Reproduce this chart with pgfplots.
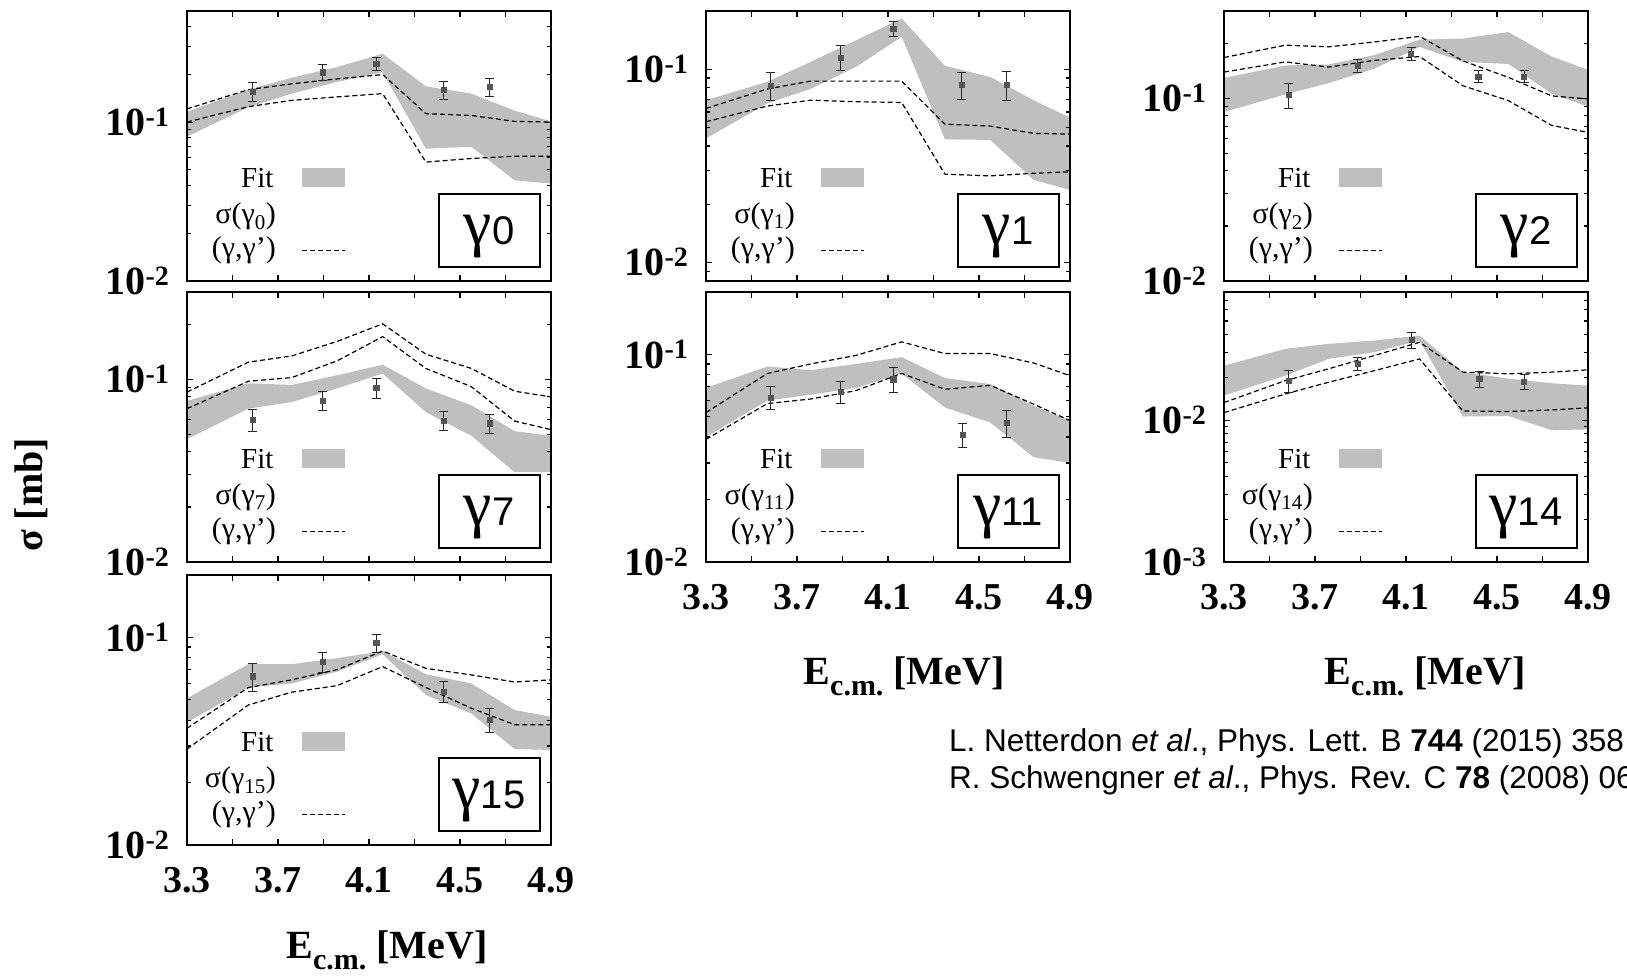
\documentclass[border=0pt]{standalone}
\usepackage{fontspec}
\setmainfont{Liberation Serif}
\newfontfamily\sans{Liberation Sans}
\usepackage{pgfplots}
\pgfplotsset{compat=1.18}
\usepackage{pgfplotstable}
\usetikzlibrary{calc}

\definecolor{bandgray}{RGB}{191,191,191}
\definecolor{markgray}{RGB}{85,85,85}

\newcommand\tickfont{\fontsize{38}{38}\selectfont\bfseries}
\newcommand\ytickfont{\fontsize{40}{40}\selectfont\bfseries}
\newcommand\legfont{\fontsize{29}{29}\selectfont}
\newcommand\greekleg{\fontsize{30}{30}\selectfont}
\newcommand\labfont{\fontsize{40}{40}\selectfont\bfseries}

% two (gamma,gamma') calculations (da/db) per transition
\pgfplotstableread{
x    da     db
3.30 0.121  0.100
3.57 0.160  0.125
3.76 0.174  0.137
3.96 0.187  0.144
4.16 0.199  0.151
4.35 0.113  0.056
4.55 0.110  0.059
4.74 0.101  0.061
4.90 0.100  0.061
}\calcA
\pgfplotstableread{
x     y      e
3.588 0.156  0.022
3.896 0.206  0.023
4.132 0.232  0.022
4.429 0.160  0.021
4.631 0.166  0.022
}\dataA

\pgfplotstableread{
x    da     db
3.30 0.0626 0.0534
3.57 0.079  0.0644
3.76 0.0867 0.0691
3.96 0.0867 0.0678
4.16 0.0867 0.0672
4.35 0.0519 0.0286
4.55 0.0507 0.028
4.74 0.0465 0.0289
4.90 0.0461 0.0294
}\calcB
\pgfplotstableread{
x     y      e
3.583 0.082  0.0135
3.892 0.115  0.017
4.123 0.162  0.015
4.424 0.083  0.013
4.622 0.083  0.0145
}\dataB

\pgfplotstableread{
x    da     db
3.30 0.167  0.139
3.57 0.195  0.158
3.76 0.191  0.148
3.96 0.203  0.161
4.16 0.218  0.169
4.35 0.160  0.117
4.55 0.130  0.097
4.74 0.103  0.071
4.90 0.099  0.065
}\calcC
\pgfplotstableread{
x     y      e
3.585 0.104  0.0165
3.888 0.151  0.0125
4.122 0.175  0.014
4.417 0.1315 0.010
4.619 0.1315 0.0095
}\dataC

\pgfplotstableread{
x    da     db
3.30 0.085  0.069
3.57 0.124  0.0975
3.76 0.134  0.102
3.96 0.161  0.126
4.16 0.201  0.171
4.35 0.137  0.1145
4.55 0.1145 0.091
4.74 0.086  0.059
4.90 0.080  0.053
}\calcD
\pgfplotstableread{
x     y      e
3.588 0.060  0.0085
3.896 0.0766 0.009
4.132 0.0896 0.011
4.429 0.0594 0.007
4.631 0.0574 0.007
}\dataD

\pgfplotstableread{
x    da     db
3.30 0.0525 0.039
3.57 0.081  0.058
3.76 0.090  0.061
3.96 0.099  0.067
4.16 0.115  0.081
4.35 0.101  0.068
4.55 0.101  0.071
4.74 0.091  0.0576
4.90 0.079  0.048
}\calcE
\pgfplotstableread{
x     y      e
3.583 0.062  0.0078
3.892 0.066  0.008
4.123 0.076  0.0105
4.427 0.041  0.0055
4.622 0.047  0.007
}\dataE

\pgfplotstableread{
x    da     db
3.30 0.0133 0.0113
3.57 0.0190 0.0153
3.76 0.0230 0.0185
3.96 0.0285 0.0223
4.16 0.0354 0.0270
4.35 0.0218 0.0116
4.55 0.0212 0.0115
4.74 0.0218 0.0118
4.90 0.0226 0.0122
}\calcF
\pgfplotstableread{
x     y      e
3.585 0.0190 0.0033
3.888 0.0249 0.0026
4.125 0.0368 0.0048
4.422 0.0195 0.0025
4.619 0.0187 0.0022
}\dataF

\pgfplotstableread{
x    da     db
3.30 0.0365 0.029
3.57 0.0574 0.0473
3.76 0.0625 0.0545
3.96 0.070  0.0586
4.16 0.086  0.0724
4.35 0.071  0.0574
4.55 0.066  0.0456
4.74 0.061  0.038
4.90 0.0625 0.038
}\calcG
\pgfplotstableread{
x     y      e
3.588 0.065  0.0098
3.896 0.0766 0.0085
4.132 0.094  0.0095
4.429 0.055  0.0065
4.631 0.040  0.0053
}\dataG

\tikzset{
  calcline/.style={black, line width=1.2pt, dash pattern=on 5pt off 3pt},
  fitband/.style={fill=bandgray, draw=none},
}
\pgfplotsset{
  sigaxis/.style={
    scale only axis, width=364pt, height=270pt,
    xmin=3.3, xmax=4.9,
    xtick={3.3,3.5,3.7,3.9,4.1,4.3,4.5,4.7,4.9},
    xticklabels={},
    axis line style={line width=1.6pt},
    major tick style={black, line width=1.1pt},
    minor tick style={black, line width=1.1pt},
    major tick length=6pt, minor tick length=4pt,
    xticklabel style={font=\tickfont, yshift=-19pt},
    yticklabel style={font=\ytickfont, xshift=-14pt},
    axis on top,
  },
  xnums/.style={xticklabels={3.3,,3.7,,4.1,,4.5,,4.9}},
  datapts/.style={only marks, mark=square*, mark size=2.6pt,
    mark options={fill=markgray, draw=markgray},
    error bars/y dir=both, error bars/y explicit,
    error bars/error bar style={black!85, line width=1pt},
    error bars/error mark options={black!85, line width=1pt, mark size=4.5pt, rotate=90}},
}

% two calculations and measured points of one transition
\newcommand{\drawpanel}[2]{%
  \addplot[calcline] table[x=x,y=da]{#1};
  \addplot[calcline] table[x=x,y=db]{#1};
  \addplot[datapts] table[x=x,y=y,y error=e]{#2};
}

% key and transition label inside a panel
\newcommand{\keyfor}[2]{%
  \node[anchor=east, font=\legfont] at ($(#1.south west)+(90pt,102.7pt)$) {Fit};
  \fill[bandgray] ($(#1.south west)+(115pt,94.3pt)$) rectangle ($(#1.south west)+(158pt,112.7pt)$);
  \node[anchor=east, font=\greekleg, inner sep=1pt] at ($(#1.south west)+(90pt,64.5pt)$) {σ(γ\textsubscript{#2})};
  \node[anchor=east, font=\greekleg, inner sep=1pt] at ($(#1.south west)+(90pt,30.5pt)$) {(γ,γ')};
  \draw[calcline] ($(#1.south west)+(115pt,30.5pt)$) -- ++(43pt,0);
  \node[draw, line width=2pt, minimum width=101pt, minimum height=73pt, inner sep=0pt, fill=white]
    at ($(#1.south west)+(302pt,50.5pt)$)
    {\raisebox{-14pt}[0pt][0pt]{{\fontsize{64}{64}\selectfont γ}{\sans\fontsize{40}{40}\selectfont #2}}};
}

\newcommand{\elabel}{E\raisebox{-11pt}{\fontsize{30}{30}\selectfont c.m.} [MeV]}

\begin{document}
\begin{tikzpicture}
\useasboundingbox (0,0) rectangle (1627pt,976pt);

% row 1
\begin{semilogyaxis}[sigaxis, name=g0, at={(187pt,695pt)}, anchor=south west, ymin=0.01, ymax=0.5,
  ytick={0.01,0.1}, yticklabels={{10\textsuperscript{-2}},{10\textsuperscript{-1}}},
  minor ytick={0.02,0.03,0.04,0.05,0.06,0.07,0.08,0.09,0.2,0.3,0.4}]
  \addplot[fitband] coordinates {(3.30,0.116) (3.57,0.160) (3.76,0.190) (3.96,0.222) (4.16,0.269)
    (4.35,0.168) (4.55,0.151) (4.74,0.118) (4.90,0.101) (4.90,0.041) (4.74,0.043) (4.55,0.070)
    (4.35,0.068) (4.16,0.206) (3.96,0.179) (3.76,0.151) (3.57,0.124) (3.30,0.081)} --cycle;
  \drawpanel{\calcA}{\dataA}
\end{semilogyaxis}
\begin{semilogyaxis}[sigaxis, name=g1, at={(706pt,695pt)}, anchor=south west, ymin=0.008, ymax=0.2,
  ytick={0.01,0.1}, yticklabels={{10\textsuperscript{-2}},{10\textsuperscript{-1}}},
  minor ytick={0.009,0.02,0.03,0.04,0.05,0.06,0.07,0.08,0.09}]
  \addplot[fitband] coordinates {(3.30,0.0691) (3.57,0.086) (3.76,0.109) (3.96,0.141) (4.16,0.183)
    (4.35,0.104) (4.55,0.091) (4.74,0.069) (4.90,0.056) (4.90,0.0237) (4.74,0.0267) (4.55,0.043)
    (4.35,0.0433) (4.16,0.147) (3.96,0.1028) (3.76,0.079) (3.57,0.0665) (3.30,0.0438)} --cycle;
  \drawpanel{\calcB}{\dataB}
\end{semilogyaxis}
\begin{semilogyaxis}[sigaxis, name=g2, at={(1224pt,695pt)}, anchor=south west, ymin=0.01, ymax=0.3,
  ytick={0.01,0.1}, yticklabels={{10\textsuperscript{-2}},{10\textsuperscript{-1}}},
  minor ytick={0.02,0.03,0.04,0.05,0.06,0.07,0.08,0.09,0.2}]
  \addplot[fitband] coordinates {(3.30,0.129) (3.57,0.151) (3.76,0.153) (3.96,0.172) (4.16,0.209)
    (4.35,0.212) (4.55,0.230) (4.74,0.169) (4.90,0.143) (4.90,0.090) (4.74,0.106) (4.55,0.154)
    (4.35,0.158) (4.16,0.191) (3.96,0.145) (3.76,0.121) (3.57,0.105) (3.30,0.084)} --cycle;
  \drawpanel{\calcC}{\dataC}
\end{semilogyaxis}

% row 2
\begin{semilogyaxis}[sigaxis, name=g7, at={(187pt,414pt)}, anchor=south west, ymin=0.01, ymax=0.3,
  ytick={0.01,0.1}, yticklabels={{10\textsuperscript{-2}},{10\textsuperscript{-1}}},
  minor ytick={0.02,0.03,0.04,0.05,0.06,0.07,0.08,0.09,0.2}]
  \addplot[fitband] coordinates {(3.30,0.076) (3.57,0.095) (3.76,0.093) (3.96,0.105) (4.16,0.120)
    (4.35,0.089) (4.55,0.072) (4.74,0.052) (4.90,0.049) (4.90,0.031) (4.74,0.031) (4.55,0.049)
    (4.35,0.066) (4.16,0.1075) (3.96,0.089) (3.76,0.075) (3.57,0.069) (3.30,0.047)} --cycle;
  \drawpanel{\calcD}{\dataD}
\end{semilogyaxis}
\begin{semilogyaxis}[sigaxis, xnums, name=g11, at={(706pt,414pt)}, anchor=south west, ymin=0.01, ymax=0.2,
  ytick={0.01,0.1}, yticklabels={{10\textsuperscript{-2}},{10\textsuperscript{-1}}},
  minor ytick={0.02,0.03,0.04,0.05,0.06,0.07,0.08,0.09}]
  \addplot[fitband] coordinates {(3.30,0.069) (3.57,0.0875) (3.76,0.084) (3.96,0.090) (4.16,0.097)
    (4.35,0.077) (4.55,0.072) (4.74,0.0566) (4.90,0.048) (4.90,0.030) (4.74,0.032) (4.55,0.047)
    (4.35,0.0555) (4.16,0.081) (3.96,0.069) (3.76,0.064) (3.57,0.060) (3.30,0.040)} --cycle;
  \drawpanel{\calcE}{\dataE}
\end{semilogyaxis}
\begin{semilogyaxis}[sigaxis, xnums, name=g14, at={(1224pt,414pt)}, anchor=south west, ymin=0.001, ymax=0.08,
  ytick={0.001,0.01}, yticklabels={{10\textsuperscript{-3}},{10\textsuperscript{-2}}},
  minor ytick={0.002,0.003,0.004,0.005,0.006,0.007,0.008,0.009,0.02,0.03,0.04,0.05,0.06,0.07}]
  \addplot[fitband] coordinates {(3.30,0.0242) (3.57,0.0318) (3.76,0.0345) (3.96,0.0364) (4.16,0.0395)
    (4.35,0.0218) (4.55,0.0196) (4.74,0.0182) (4.90,0.0175) (4.90,0.0086) (4.74,0.0085) (4.55,0.0107)
    (4.35,0.0106) (4.16,0.0364) (3.96,0.0301) (3.76,0.0270) (3.57,0.0206) (3.30,0.0149)} --cycle;
  \drawpanel{\calcF}{\dataF}
\end{semilogyaxis}

% row 3
\begin{semilogyaxis}[sigaxis, xnums, name=g15, at={(187pt,131pt)}, anchor=south west, ymin=0.01, ymax=0.2,
  ytick={0.01,0.1}, yticklabels={{10\textsuperscript{-2}},{10\textsuperscript{-1}}},
  minor ytick={0.02,0.03,0.04,0.05,0.06,0.07,0.08,0.09}]
  \addplot[fitband] coordinates {(3.30,0.051) (3.57,0.0743) (3.76,0.0743) (3.96,0.0795) (4.16,0.086)
    (4.35,0.0665) (4.55,0.060) (4.74,0.0447) (4.90,0.0415) (4.90,0.0287) (4.74,0.029) (4.55,0.043)
    (4.35,0.0528) (4.16,0.083) (3.96,0.0685) (3.76,0.060) (3.57,0.0574) (3.30,0.039)} --cycle;
  \drawpanel{\calcG}{\dataG}
\end{semilogyaxis}

\keyfor{g0}{0}
\keyfor{g1}{1}
\keyfor{g2}{2}
\keyfor{g7}{7}
\keyfor{g11}{11}
\keyfor{g14}{14}
\keyfor{g15}{15}

% axis titles
\node[rotate=90, font=\labfont] at (31pt,481pt) {σ [mb]};
\node[anchor=base, font=\labfont] at (387pt,17pt) {\elabel};
\node[anchor=base, font=\labfont] at (904pt,291pt) {\elabel};
\node[anchor=base, font=\labfont] at (1425pt,291pt) {\elabel};

% references
\node[anchor=west, inner sep=0pt, font=\sans\fontsize{31.5}{37}\selectfont] at (949pt,233pt)
  {L. Netterdon \textit{et al}., Phys. Lett. B \textbf{744} (2015) 358};
\node[anchor=west, inner sep=0pt, font=\sans\fontsize{31.5}{37}\selectfont] at (949pt,196pt)
  {R. Schwengner \textit{et al}., Phys. Rev. C \textbf{78} (2008) 064314};
\end{tikzpicture}
\end{document}
